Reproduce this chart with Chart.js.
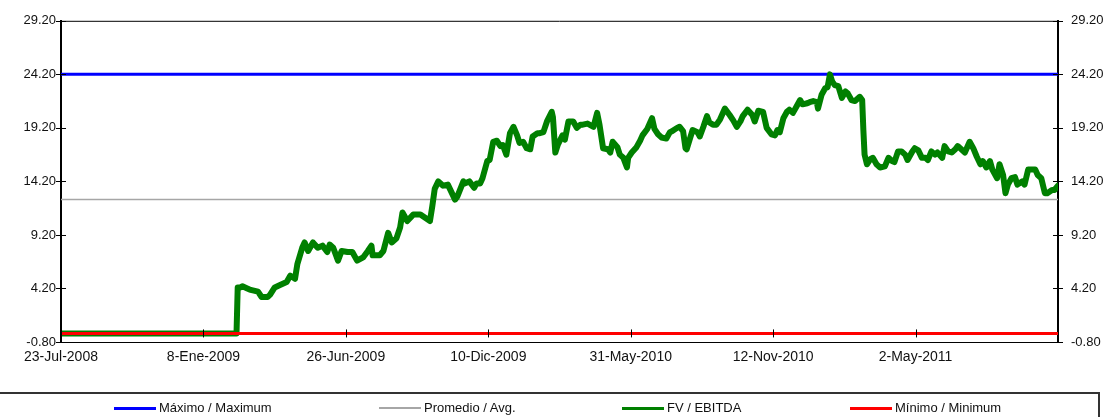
<!DOCTYPE html>
<html>
<head>
<meta charset="utf-8">
<script src="https://cdn.jsdelivr.net/npm/chart.js@4.4.0/dist/chart.umd.min.js"></script>
<style>
  body { margin: 0; background: #fff; }
  #wrap { position: relative; width: 1115px; height: 417px; overflow: hidden; }
  #legend { position: absolute; left: -3px; top: 392px; width: 1103px; height: 40px; border: 2px solid #333; box-sizing: border-box; }
  .item { position: absolute; top: 5px; height: 18px; font: 13px "Liberation Sans", Arial, sans-serif; color: #111; white-space: nowrap; }
  .item .swatch { position: absolute; left: 0; top: 8px; width: 42px; }
  .item .txt { position: absolute; left: 45px; top: 0; line-height: 18px; }
</style>
</head>
<body>
<div id="wrap">
  <canvas id="chart" width="1115" height="417"></canvas>
  <div id="legend"></div>
</div>
<script>
// eje x: dias habiles desde 23-Jul-2008, una etiqueta cada 120
const tickLabels = ["23-Jul-2008", "8-Ene-2009", "26-Jun-2009", "10-Dic-2009", "31-May-2010", "12-Nov-2010", "2-May-2011"];
const tickStep = 120;
const lastDay = 835;

const seriesNames = ["Máximo / Maximum", "Promedio / Avg.", "FV / EBITDA", "Mínimo / Minimum"];
const maxValue = 24.2;
const avgValue = 12.5;
const minValue = 0;

// [dia, FV/EBITDA]
const fvPoints = [
  [0,0],[147,0],[148,4.3],[150,4.3],[152,4.4],[156,4.2],[158,4.1],[165,3.9],[168,3.4],[173,3.4],
  [175,3.6],[179,4.3],[183,4.5],[189,4.8],[192,5.4],[196,5.1],[198,6.5],[202,8.0],[204,8.5],[207,7.7],
  [211,8.5],[215,8.0],[219,8.2],[223,7.6],[225,8.3],[228,8.0],[232,6.8],[235,7.7],[240,7.6],[244,7.6],
  [248,6.8],[253,7.1],[257,7.7],[260,8.2],[261,7.3],[267,7.3],[270,7.7],[274,9.4],[277,8.5],[281,8.9],
  [284,9.9],[286,11.3],[290,10.5],[295,11.1],[301,11.1],[305,10.8],[309,10.5],[311,11.9],[313,13.5],[316,14.2],
  [320,13.8],[324,13.9],[330,12.5],[332,12.8],[337,14.2],[338,14.0],[342,14.2],[346,13.6],[348,14.0],[351,14.0],
  [353,14.5],[357,16.1],[359,16.2],[362,17.9],[365,18.0],[368,17.5],[370,17.6],[373,16.7],[376,18.7],[379,19.3],
  [382,18.5],[384,17.8],[387,17.9],[390,17.3],[393,17.2],[395,18.4],[399,18.7],[401,18.7],[404,18.8],[407,19.8],
  [411,20.7],[412,20.2],[414,16.9],[416,17.6],[420,18.5],[422,18.1],[425,19.8],[429,19.8],[432,19.2],[435,19.5],
  [437,19.5],[441,19.6],[446,19.3],[449,20.6],[451,19.5],[454,17.3],[458,17.2],[460,16.9],[462,17.9],[466,17.4],
  [468,16.7],[471,16.4],[474,15.5],[475,16.4],[478,16.9],[482,17.4],[485,18.0],[487,18.5],[491,19.1],[495,20.1],
  [497,19.1],[500,18.6],[503,18.3],[507,18.2],[510,18.8],[512,18.9],[516,19.2],[518,19.3],[521,18.9],[523,17.3],
  [524,17.2],[527,18.3],[529,19.0],[533,18.8],[535,18.4],[538,19.3],[541,20.3],[543,19.7],[546,19.5],[549,19.5],
  [552,20.0],[556,21.0],[560,20.4],[563,19.9],[566,19.3],[569,19.8],[571,20.3],[575,20.9],[579,20.4],[581,19.8],
  [584,20.8],[588,20.7],[591,19.2],[595,18.6],[598,18.5],[600,19.0],[602,18.8],[605,20.1],[608,20.7],[610,20.9],
  [613,20.6],[616,21.2],[619,21.8],[621,21.4],[625,21.5],[627,21.6],[630,21.7],[633,21.6],[634,21.0],[637,22.3],
  [640,22.9],[642,23.0],[644,24.2],[646,23.5],[648,23.2],[651,23.1],[654,22.0],[657,22.6],[659,22.4],[662,21.8],
  [665,21.7],[669,22.1],[671,21.8],[672,19.0],[673,16.7],[675,15.8],[678,16.3],[680,16.4],[683,15.8],[686,15.5],
  [690,15.6],[693,16.4],[696,16.1],[698,16.0],[701,17.0],[704,17.0],[707,16.7],[709,16.2],[713,17.0],[715,17.3],
  [718,17.1],[721,16.4],[724,16.4],[726,16.2],[729,17.0],[732,16.7],[734,16.9],[738,16.4],[740,17.5],[743,17.0],
  [746,16.9],[749,17.2],[751,17.5],[754,17.2],[757,16.9],[761,17.9],[764,17.3],[767,16.5],[770,15.8],[772,16.1],
  [775,15.5],[778,16.1],[780,15.3],[784,14.5],[786,15.8],[789,14.8],[791,13.1],[793,13.9],[796,14.5],[799,14.6],
  [801,13.9],[805,14.2],[807,13.9],[810,15.3],[813,15.3],[816,15.3],[818,14.8],[821,14.5],[824,13.1],[826,13.1],
  [830,13.4],[832,13.4],[835,13.8]
];

const yMin = -0.8, yMax = 29.2, yStep = 5;

const colors = ["#0000FF", "#A6A6A6", "#008000", "#FF0000"];
const widths = [3, 1.5, 6, 3];
const legendLeft = [112, 377, 620, 848];

Chart.defaults.font.family = '"Liberation Sans", Arial, sans-serif';
Chart.defaults.color = "#111";

const flat = (v) => [{ x: 0, y: v }, { x: lastDay, y: v }];

// marco superior y marcas de ticks cruzando los ejes
const frameMarks = {
  id: "frameMarks",
  afterDatasetsDraw(chart) {
    const { ctx, chartArea: a, scales } = chart;
    ctx.save();
    ctx.strokeStyle = "#000";
    ctx.lineWidth = 1;
    ctx.beginPath();
    ctx.moveTo(a.left, a.top + 0.5);
    ctx.lineTo(a.right, a.top + 0.5);
    scales.y.ticks.forEach(t => {
      const p = Math.round(scales.y.getPixelForValue(t.value)) + 0.5;
      ctx.moveTo(a.left - 5, p); ctx.lineTo(a.left + 5, p);
      ctx.moveTo(a.right - 5, p); ctx.lineTo(a.right + 5, p);
    });
    const y0 = scales.y.getPixelForValue(0);
    scales.x.ticks.forEach(t => {
      const p = Math.round(scales.x.getPixelForValue(t.value)) + 0.5;
      ctx.moveTo(p, y0 - 4); ctx.lineTo(p, y0 + 4);
    });
    ctx.stroke();
    ctx.restore();
  }
};

const datasets = [
  { label: seriesNames[0], data: flat(maxValue), order: 3 },
  { label: seriesNames[1], data: flat(avgValue), order: 2 },
  { label: seriesNames[2], data: fvPoints.map(p => ({ x: p[0], y: p[1] })), order: 1 },
  { label: seriesNames[3], data: flat(minValue), order: 0 },
].map((d, i) => Object.assign(d, {
  borderColor: colors[i],
  borderWidth: widths[i],
  pointRadius: 0,
  tension: 0,
  borderJoinStyle: "round",
  borderCapStyle: "round",
  fill: false,
}));

const chart = new Chart(document.getElementById("chart"), {
  type: "line",
  data: { datasets: datasets },
  options: {
    responsive: false,
    animation: false,
    layout: { padding: { top: 17, left: 0, right: 0, bottom: 0 } },
    plugins: {
      legend: { display: false },
      tooltip: { enabled: false },
    },
    scales: {
      x: {
        type: "linear",
        min: 0,
        max: lastDay,
        grid: { drawOnChartArea: false, drawTicks: false },
        border: { display: true, color: "#000", width: 1 },
        ticks: {
          stepSize: tickStep,
          includeBounds: false,
          autoSkip: false,
          maxRotation: 0,
          padding: 7,
          font: { size: 14 },
          callback: (v) => tickLabels[Math.round(v / tickStep)] ?? "",
        },
        afterFit: (s) => { s.height = 75; },
      },
      y: {
        position: "left",
        min: yMin,
        max: yMax,
        grid: { drawOnChartArea: false, drawTicks: false },
        border: { display: true, color: "#000", width: 2 },
        ticks: { stepSize: yStep, padding: 5, font: { size: 13 }, callback: (v) => v.toFixed(2) },
        afterFit: (s) => { s.width = 61; },
      },
      y2: {
        position: "right",
        min: yMin,
        max: yMax,
        grid: { drawOnChartArea: false, drawTicks: false },
        border: { display: true, color: "#000", width: 2 },
        ticks: { stepSize: yStep, padding: 13, font: { size: 13 }, callback: (v) => v.toFixed(2) },
        afterFit: (s) => { s.width = 57; },
      },
    },
  },
  plugins: [frameMarks],
});

// leyenda en recuadro bajo el grafico
const legendBox = document.getElementById("legend");
seriesNames.forEach((name, i) => {
  const item = document.createElement("div");
  item.className = "item";
  item.style.left = (legendLeft[i] + 3) + "px";
  const sw = document.createElement("div");
  sw.className = "swatch";
  sw.style.height = (i === 1 ? 2 : 3) + "px";
  sw.style.background = colors[i];
  const txt = document.createElement("span");
  txt.className = "txt";
  txt.textContent = name;
  item.appendChild(sw);
  item.appendChild(txt);
  legendBox.appendChild(item);
});
</script>
</body>
</html>
